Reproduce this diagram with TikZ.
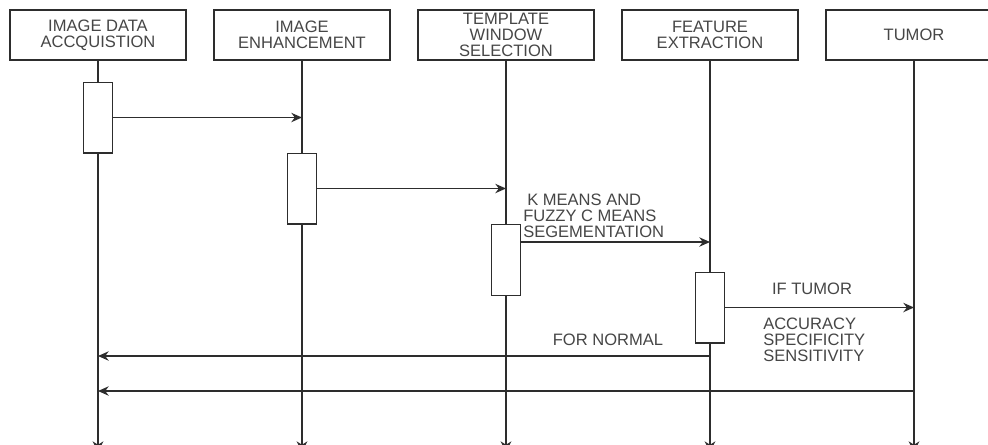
\documentclass[tikz,border=0pt]{standalone}
\usepackage{fontspec}
\setmainfont{Liberation Sans}
\usetikzlibrary{arrows.meta}
\definecolor{linec}{RGB}{45,45,45}
\definecolor{textc}{RGB}{70,70,70}
\begin{document}
\begin{tikzpicture}[x=0.75pt,y=-0.75pt,
  every node/.style={font=\fontsize{12.4}{12}\selectfont, text=textc},
  headbox/.style={draw=linec, line width=1pt, fill=white, minimum width=132pt, minimum height=37.5pt, inner sep=0pt, align=center},
  actbox/.style={draw=linec, line width=1pt, fill=white, minimum width=22pt, minimum height=53pt, inner sep=0pt},
  lifeline/.style={draw=linec, line width=1pt, -{Stealth[length=8pt,width=8pt]}},
  msg/.style={draw=linec, line width=1pt, -{Stealth[length=8pt,width=7pt]}},
  lbl/.style={inner sep=0pt, align=left}]
\useasboundingbox (0,0) rectangle (988,444);
\clip (0,0) rectangle (988,444);
\fill[white] (0,0) rectangle (988,444);
% header boxes
\node[headbox] (h1) at (98,35) {IMAGE DATA\\ACCQUISTION};
\node[headbox] (h2) at (302,35) {IMAGE\\ENHANCEMENT};
\node[headbox] (h3) at (506,35) {TEMPLATE\\WINDOW\\SELECTION};
\node[headbox] (h4) at (710,35) {FEATURE\\EXTRACTION};
\node[headbox] (h5) at (914,35) {TUMOR};
% lifeline ends
\coordinate (e1) at (98,452);
\coordinate (e2) at (302,452);
\coordinate (e3) at (506,452);
\coordinate (e4) at (710,452);
\coordinate (e5) at (914,452);
\draw[lifeline] (h1.south) -- (e1);
\draw[lifeline] (h2.south) -- (e2);
\draw[lifeline] (h3.south) -- (e3);
\draw[lifeline] (h4.south) -- (e4);
\draw[lifeline] (h5.south) -- (e5);
% activation boxes
\node[actbox] (a1) at (98,117.5) {};
\node[actbox] (a2) at (302,188.5) {};
\node[actbox] (a3) at (506,260) {};
\node[actbox] (a4) at (710,307.5) {};
% messages
\draw[msg] (a1.east) -- (a1.east -| h2.south);
\draw[msg] (a2.east) -- (a2.east -| h3.south);
\coordinate (m3) at (a3.east |- 0,242);
\draw[msg] (m3) -- (m3 -| h4.south);
\draw[msg] (a4.east) -- (a4.east -| h5.south);
\coordinate (m5) at (710,356);
\draw[msg] (m5) -- (m5 -| h1.south);
\coordinate (m6) at (914,391);
\draw[msg] (m6) -- (m6 -| h1.south);
% labels
\node[lbl, anchor=west] (t3) at (523,216) {\hspace{3pt}K MEANS AND\\FUZZY C MEANS\\SEGEMENTATION};
\node[lbl] (t4) at (812,289) {IF TUMOR};
\node[lbl, anchor=west] (t4b) at (763,340) {ACCURACY\\SPECIFICITY\\SENSITIVITY};
\node[lbl] (t5) at (608,340) {FOR NORMAL};
\end{tikzpicture}
\end{document}
